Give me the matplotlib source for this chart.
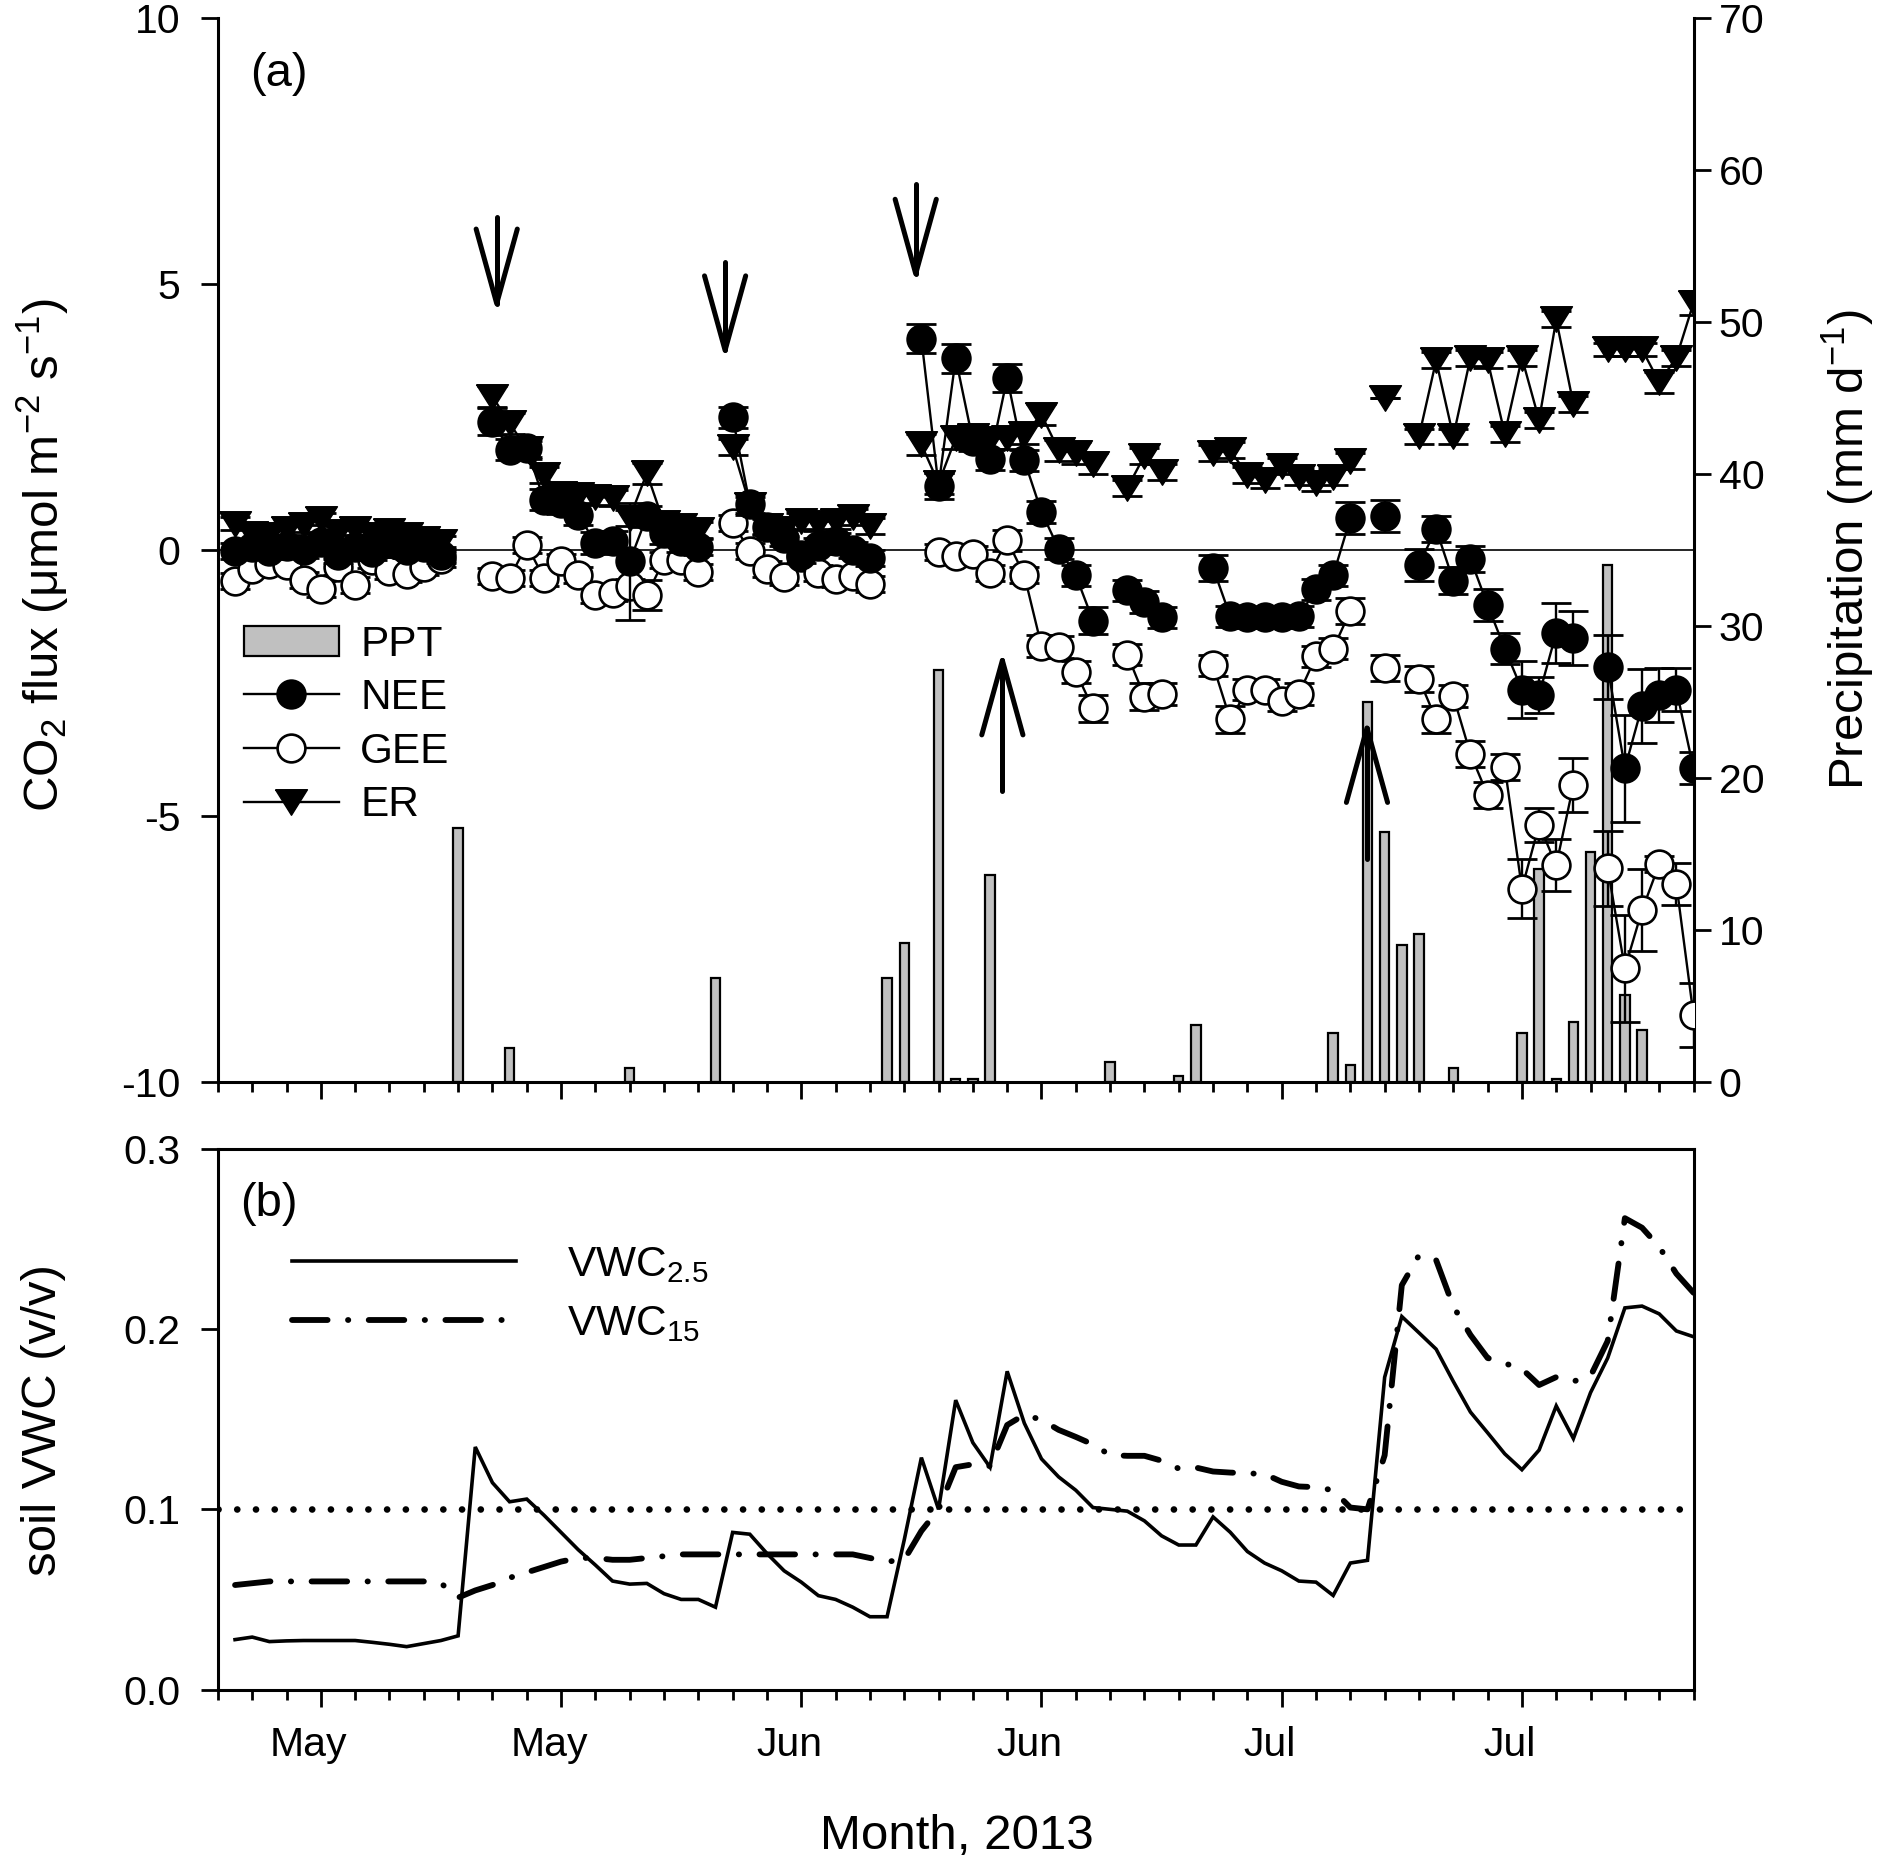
import numpy as np
import matplotlib
matplotlib.use('Agg')
import matplotlib.pyplot as plt
import matplotlib.transforms as mtransforms

plt.rcParams['font.family'] = ['Liberation Sans', 'DejaVu Sans']
plt.rcParams['mathtext.fontset'] = 'custom'
plt.rcParams['mathtext.rm'] = 'Liberation Sans'
plt.rcParams['mathtext.it'] = 'Liberation Sans:italic'
plt.rcParams['mathtext.bf'] = 'Liberation Sans:bold'
plt.rcParams['axes.unicode_minus'] = False

# ---------------- data (x = days since start of axis, 2013) ----------------
month_tick_days = [6, 20, 34, 48, 62, 76]
month_tick_labels = ['May', 'May', 'Jun', 'Jun', 'Jul', 'Jul']

ppt_days = [14, 17, 24, 29, 39, 40, 42, 43, 44, 45, 52, 56, 57, 65, 66, 67, 68, 69, 70,
            72, 76, 77, 78, 79, 80, 81, 82, 83]
ppt_mm = [16.7, 2.2, 0.9, 6.8, 6.8, 9.1, 27.1, 0.15, 0.15, 13.6, 1.3, 0.4, 3.7, 3.2, 1.1,
          25.0, 16.4, 9.0, 9.7, 0.9, 3.2, 14.0, 0.2, 3.9, 15.1, 34.0, 5.7, 3.4]

flux_days = [1, 2, 3, 4, 5, 6, 7, 8, 9, 10, 11, 12, 13,
             16, 17, 18, 19, 20, 21, 22, 23, 24, 25, 26, 27, 28,
             30, 31, 32, 33, 34, 35, 36, 37, 38,
             41, 42, 43, 44, 45, 46, 47, 48, 49, 50, 51,
             53, 54, 55,
             58, 59, 60, 61, 62, 63, 64, 65, 66,
             68,
             70, 71, 72, 73, 74, 75, 76, 77, 78, 79,
             81, 82, 83, 84, 85, 86]

nee = [-0.02, 0.05, -0.02, 0.08, 0.00, 0.15, -0.10, 0.05, -0.05, 0.12, 0.00, 0.05, -0.10,
       2.41, 1.88, 1.91, 0.94, 0.88, 0.66, 0.13, 0.16, -0.22, 0.63, 0.31, 0.16, 0.06,
       2.49, 0.86, 0.42, 0.23, -0.10, 0.07, 0.17, 0.00, -0.15,
       3.97, 1.20, 3.60, 2.05, 1.70, 3.23, 1.68, 0.71, 0.02, -0.48, -1.33,
       -0.76, -0.98, -1.27,
       -0.34, -1.25, -1.27, -1.27, -1.27, -1.25, -0.74, -0.48, 0.59,
       0.64,
       -0.28, 0.39, -0.58, -0.17, -1.04, -1.86, -2.63, -2.73, -1.56, -1.66,
       -2.20, -4.11, -2.94, -2.73, -2.63, -4.11]
nee_err = [0.15] * 13 + \
          [0.25, 0.2, 0.2, 0.2, 0.2, 0.2, 0.2, 0.2, 1.1, 0.2, 0.2, 0.2, 0.15] + \
          [0.2, 0.2, 0.15, 0.15, 0.15, 0.15, 0.15, 0.15, 0.15] + \
          [0.27, 0.25, 0.27, 0.2, 0.2, 0.27, 0.2, 0.2, 0.2, 0.2, 0.25] + \
          [0.2, 0.2, 0.2] + \
          [0.25, 0.2, 0.2, 0.2, 0.2, 0.2, 0.2, 0.2, 0.3] + \
          [0.3] + \
          [0.3, 0.25, 0.25, 0.25, 0.3, 0.29, 0.53, 0.33, 0.56, 0.51] + \
          [0.6, 1.0, 0.7, 0.5, 0.4, 0.3]

gee = [-0.58, -0.36, -0.26, -0.29, -0.56, -0.73, -0.33, -0.67, -0.20, -0.39, -0.45, -0.33, -0.17,
       -0.50, -0.53, 0.09, -0.53, -0.22, -0.47, -0.85, -0.81, -0.69, -0.85, -0.19, -0.19, -0.41,
       0.51, -0.02, -0.36, -0.52, -0.14, -0.43, -0.55, -0.49, -0.65,
       np.nan, -0.05, -0.12, -0.07, -0.43, 0.18, -0.48, -1.81, -1.83, -2.30, -2.98,
       -1.97, -2.76, -2.71,
       -2.17, -3.19, -2.63, -2.63, -2.84, -2.71, -2.00, -1.86, -1.15,
       -2.22,
       -2.43, -3.19, -2.75, -3.84, -4.61, -4.08, -6.37, -5.17, -5.93, -4.42,
       -5.99, -7.87, -6.78, -5.91, -6.28, -8.75]
gee_err = [0.15] * 13 + \
          [0.15] * 9 + [0.28, 0.15, 0.15, 0.15] + \
          [0.15] * 9 + \
          [0.0, 0.15, 0.15, 0.15, 0.15, 0.2, 0.15, 0.2, 0.2, 0.2, 0.25] + \
          [0.2, 0.25, 0.2] + \
          [0.2, 0.25, 0.2, 0.2, 0.2, 0.2, 0.2, 0.2, 0.25] + \
          [0.25] + \
          [0.25, 0.25, 0.2, 0.25, 0.25, 0.24, 0.56, 0.32, 0.49, 0.51] + \
          [0.7, 1.0, 0.77, 0.15, 0.4, 0.6]

er = [0.49, 0.30, 0.27, 0.39, 0.46, 0.58, 0.33, 0.39, 0.27, 0.36, 0.27, 0.20, 0.14,
      2.88, 2.38, 1.90, 1.41, 1.05, 1.03, 1.00, 0.97, 0.60, 1.44, 0.50, 0.45, 0.38,
      1.93, 0.85, 0.45, 0.40, 0.55, 0.50, 0.55, 0.62, 0.45,
      1.98, 1.25, 2.10, 2.13, 2.08, 2.10, 2.18, 2.54, 1.87, 1.82, 1.62,
      1.16, 1.77, 1.46,
      1.82, 1.87, 1.41, 1.31, 1.57, 1.36, 1.26, 1.36, 1.67,
      2.85,
      2.13, 3.56, 2.13, 3.61, 3.56, 2.18, 3.61, 2.44, 4.33, 2.74,
      3.77, 3.77, 3.77, 3.15, 3.61, 4.64]
er_err = [0.12] * 13 + \
         [0.2, 0.2, 0.15, 0.15, 0.15, 0.15, 0.15, 0.15, 0.15, 0.2, 0.15, 0.15, 0.15] + \
         [0.15] * 9 + \
         [0.2] * 11 + \
         [0.15] * 3 + \
         [0.15] * 9 + \
         [0.0] + \
         [0.15] * 10 + \
         [0.12, 0.12, 0.12, 0.2, 0.15, 0.23]

# rain-event arrows (day, tail value, tip value)
arrow_days = [16.25, 29.56, 40.67, 45.72, 66.97]
arrow_tail = [6.25, 5.41, 6.88, -4.54, -5.81]
arrow_tip = [4.63, 3.75, 5.19, -2.08, -3.35]

vwc_days = list(range(1, 87))
vwc_2_5 = [0.0277, 0.0291, 0.0266, 0.0270, 0.0272, 0.0272, 0.0272, 0.0272, 0.0262, 0.0251,
           0.0238, 0.0255, 0.0272, 0.0298, 0.1346, 0.1148, 0.1042, 0.1057, 0.0968, 0.0872,
           0.0776, 0.0691, 0.0602, 0.0585, 0.0589, 0.0532, 0.0500, 0.0500, 0.0457, 0.0872,
           0.0862, 0.0755, 0.0659, 0.0596, 0.0521, 0.0500, 0.0457, 0.0404, 0.0404, 0.0830,
           0.1287, 0.1000, 0.1606, 0.1370, 0.1234, 0.1766, 0.1478, 0.1280, 0.1180, 0.1106,
           0.1010, 0.1000, 0.0990, 0.0936, 0.0853, 0.0802, 0.0802, 0.0958, 0.0873, 0.0766,
           0.0702, 0.0659, 0.0602, 0.0596, 0.0522, 0.0702, 0.0717, 0.1733, 0.2070, 0.1980,
           0.1889, 0.1710, 0.1540, 0.1425, 0.1308, 0.1220, 0.1329, 0.1574, 0.1393, 0.1648,
           0.1840, 0.2118, 0.2128, 0.2085, 0.1990, 0.1958]
vwc_15 = [0.058, 0.059, 0.060, 0.060, 0.060, 0.060, 0.060, 0.060, 0.060, 0.060,
          0.060, 0.060, 0.059, 0.051, 0.055, 0.058, 0.062, 0.065, 0.068, 0.071,
          0.073, 0.073, 0.072, 0.072, 0.073, 0.074, 0.075, 0.075, 0.075, 0.075,
          0.075, 0.075, 0.075, 0.075, 0.075, 0.075, 0.075, 0.073, 0.071, 0.072,
          0.088, 0.100, 0.1234, 0.125, 0.124, 0.1468, 0.1525, 0.1497, 0.1441, 0.1402,
          0.136, 0.1301, 0.1297, 0.1297, 0.127, 0.1226, 0.1232, 0.121, 0.1204, 0.120,
          0.1196, 0.1153, 0.1127, 0.1123, 0.1106, 0.101, 0.100, 0.130, 0.2244, 0.241,
          0.2383, 0.2127, 0.1968, 0.184, 0.181, 0.178, 0.169, 0.1734, 0.171, 0.174,
          0.1935, 0.2616, 0.2563, 0.2457, 0.2308, 0.2202]
vwc_threshold = 0.1

# ---------------- figure ----------------
fig = plt.figure(figsize=(18.8, 18.64), dpi=100)
ax = fig.add_axes([0.1159, 0.4197, 0.7849, 0.5707])
ax_r = ax.twinx()
ax2 = fig.add_axes([0.1159, 0.0936, 0.7849, 0.2900])

TICK_FS = 29.5
LEG_FS = 30.5
LABEL_FS = 35.5
SPINE_LW = 2.2

# precipitation bars (behind the flux axes)
bars = ax_r.bar(ppt_days, ppt_mm, width=0.55, color='#c0c0c0', edgecolor='black',
                linewidth=1.6, zorder=2)
ax_r.set_ylim(0, 70)
ax_r.set_yticks(np.arange(0, 71, 10))
ax.set_zorder(ax_r.get_zorder() + 1)
ax.patch.set_visible(False)


def runs(days):
    out, start = [], 0
    for i in range(1, len(days)):
        if days[i] - days[i - 1] > 1:
            out.append((start, i))
            start = i
    out.append((start, len(days)))
    return out


tri_marker = [(-1, 0.8), (1, 0.8), (0, -0.8), (-1, 0.8)]
series = [
    ('GEE', gee, gee_err, dict(marker='o', markersize=20, markerfacecolor='white',
                               markeredgecolor='black', markeredgewidth=1.9), 3),
    ('NEE', nee, nee_err, dict(marker='o', markersize=20, markerfacecolor='black',
                               markeredgecolor='black', markeredgewidth=1.9), 5),
    ('ER', er, er_err, dict(marker=tri_marker, markersize=23, markerfacecolor='black',
                            markeredgecolor='black', markeredgewidth=1.0), 7),
]
handles = {}
d_arr = np.array(flux_days, dtype=float)
for name, vals, errs, mstyle, z in series:
    v = np.array(vals, dtype=float)
    e = np.array(errs, dtype=float)
    ax.errorbar(d_arr, v, yerr=e, fmt='none', ecolor='black', elinewidth=1.7,
                capsize=11, capthick=2.0, zorder=z)
    for s, t in runs(flux_days):
        ln, = ax.plot(d_arr[s:t], v[s:t], color='black', linewidth=1.7,
                      zorder=z + 0.5, **mstyle)
        handles.setdefault(name, ln)

ax.axhline(0, color='black', linewidth=1.2, zorder=1)

# arrows
hw, hl = 1.2, 1.4
for xa, ya0, ya1 in zip(arrow_days, arrow_tail, arrow_tip):
    sgn = 1 if ya0 > ya1 else -1
    ax.plot([xa, xa], [ya0, ya1], color='black', linewidth=3.6,
            solid_capstyle='round', zorder=9)
    ax.plot([xa - hw, xa, xa + hw], [ya1 + sgn * hl, ya1, ya1 + sgn * hl],
            color='black', linewidth=3.6, solid_capstyle='round',
            solid_joinstyle='round', zorder=9)

ax.set_xlim(0, 86)
ax.set_ylim(-10, 10)
ax.set_yticks([-10, -5, 0, 5, 10])
ax.set_xticks(month_tick_days)
ax.set_xticks(np.arange(0, 87, 2), minor=True)
ax.tick_params(axis='x', labelbottom=False)

for a in (ax, ax_r):
    a.spines['top'].set_visible(False)
ax.spines['right'].set_visible(False)
ax_r.spines['left'].set_visible(False)
ax_r.spines['bottom'].set_visible(False)
for sp in ('left', 'bottom'):
    ax.spines[sp].set_linewidth(SPINE_LW)
ax_r.spines['right'].set_linewidth(SPINE_LW)

ax.tick_params(axis='both', which='major', direction='out', length=12, width=2,
               labelsize=TICK_FS, pad=15)
ax.tick_params(axis='x', which='minor', direction='out', length=7, width=2)
ax_r.tick_params(axis='y', which='major', direction='out', length=12, width=2,
                 labelsize=TICK_FS, pad=6)

ax.set_ylabel('CO$_2$ flux (\u03bcmol m$^{-2}$ s$^{-1}$)', fontsize=LABEL_FS, va='center')
ax.yaxis.set_label_coords(-0.1185, 0.495)
ax_r.set_ylabel('Precipitation (mm d$^{-1}$)', fontsize=LABEL_FS, va='center',
                rotation=90)
ax_r.yaxis.set_label_coords(1.105, 0.5)

ax.text(0.041, 0.947, '(a)', transform=ax.transAxes, ha='center', va='center',
        fontsize=34)

leg = ax.legend([bars, handles['NEE'], handles['GEE'], handles['ER']],
                ['PPT', 'NEE', 'GEE', 'ER'], loc='upper left',
                bbox_to_anchor=(0.0175, 0.4296), frameon=False, fontsize=LEG_FS,
                handlelength=2.25, handletextpad=0.5, labelspacing=0.32,
                borderpad=0, borderaxespad=0, numpoints=1)
leg.set_zorder(20)

# ---------------- panel (b) ----------------
vd = np.array(vwc_days, dtype=float)
l25, = ax2.plot(vd, vwc_2_5, color='black', linewidth=2.6, solid_joinstyle='miter')
l15, = ax2.plot(vd, vwc_15, color='black', linewidth=4.2, dash_capstyle='round',
                dash_joinstyle='round')
l15.set_dashes([6.1, 3.5, 0.05, 3.5])
thr = ax2.axhline(vwc_threshold, color='black', linewidth=4.8, dash_capstyle='round')
thr.set_dashes([0.01, 2.8])

ax2.set_xlim(0, 86)
ax2.set_ylim(0, 0.3)
ax2.set_yticks([0.0, 0.1, 0.2, 0.3])
ax2.set_yticklabels(['0.0', '0.1', '0.2', '0.3'])
ax2.set_xticks(month_tick_days)
ax2.set_xticklabels(month_tick_labels)
ax2.set_xticks(np.arange(0, 87, 2), minor=True)
for sp in ax2.spines.values():
    sp.set_linewidth(SPINE_LW)
ax2.tick_params(axis='both', which='major', direction='out', length=12, width=2,
                labelsize=TICK_FS, pad=15)
ax2.tick_params(axis='x', which='major', pad=14)
ax2.tick_params(axis='x', which='minor', direction='out', length=7, width=2)

offset = mtransforms.ScaledTranslation(-0.12, 0, fig.dpi_scale_trans)
for lbl in ax2.get_xticklabels():
    lbl.set_transform(lbl.get_transform() + offset)

ax2.set_ylabel('soil VWC (v/v)', fontsize=LABEL_FS, va='center')
ax2.yaxis.set_label_coords(-0.1185, 0.4985)
ax2.set_xlabel('Month, 2013', fontsize=LABEL_FS, va='center')
ax2.xaxis.set_label_coords(0.5009, -0.2728)

ax2.text(0.0346, 0.898, '(b)', transform=ax2.transAxes, ha='center', va='center',
         fontsize=34)

ax2.legend([l25, l15], [r'VWC$_{2.5}$', r'VWC$_{15}$'], loc='upper left',
           bbox_to_anchor=(0.05, 0.822), frameon=False, fontsize=LEG_FS,
           handlelength=5.3, handletextpad=1.2, labelspacing=0.45,
           borderpad=0, borderaxespad=0)

fig.savefig('out.png', dpi=100)
